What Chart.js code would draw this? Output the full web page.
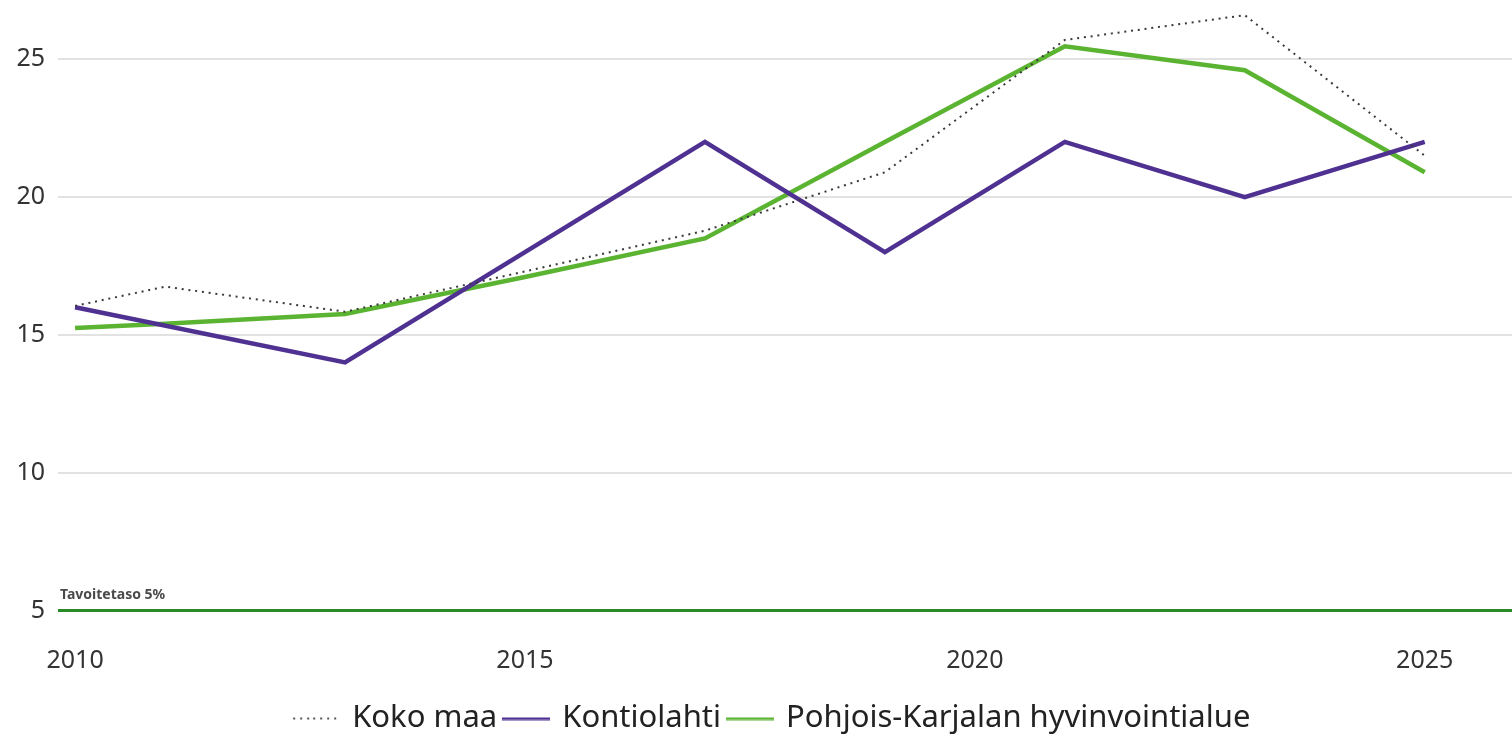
<!DOCTYPE html>
<html>
<head>
<meta charset="utf-8">
<script src="https://cdn.jsdelivr.net/npm/chart.js@4"></script>
<style>
  html, body { margin: 0; padding: 0; background: #fff; }
  #wrap { width: 1512px; height: 735px; }
</style>
</head>
<body>
<div id="wrap"><canvas id="chart" width="1512" height="735"></canvas></div>
<script>
// years on the x axis
const years = [2010, 2011, 2013, 2015, 2017, 2019, 2021, 2023, 2025];
const xTicks = [2010, 2015, 2020, 2025];
const yTicks = [5, 10, 15, 20, 25];

// series values (%)
const kokoMaa = [16.05, 16.75, 15.84, 17.3, 18.78, 20.9, 25.7, 26.6, 21.5];
const kontiolahti = [16.0, null, 14.0, null, 22.0, 18.0, 22.0, 20.0, 22.0];
const pohjoisKarjala = [15.25, 15.4, 15.76, 17.1, 18.5, 22.0, 25.47, 24.6, 20.9];

const targetValue = 5;
const targetLabel = 'Tavoitetaso 5%';

const toPoints = arr => years.map((y, i) => ({ x: y, y: arr[i] })).filter(p => p.y !== null);

// small line samples for the legend
function lineSample(color, dotted) {
    const c = document.createElement('canvas');
    c.width = 48; c.height = 4;
    const g = c.getContext('2d');
    g.fillStyle = color;
    if (dotted) {
        for (let x = 1; x < 48; x += 6.8) g.fillRect(Math.round(x), 1, 2, 2);
    } else {
        g.fillRect(0, 1, 48, 2.5);
    }
    return c;
}

// target line drawn on top of the plot with the y scale
const targetLine = {
    id: 'targetLine',
    afterLayout(chart) {
        // nudge the centred legend a bit to the right, like the original
        chart.legend.left += 34;
    },
    afterDatasetsDraw(chart) {
        const { ctx, chartArea, scales } = chart;
        const y = scales.y.getPixelForValue(targetValue);
        ctx.save();
        ctx.strokeStyle = '#2a8a2a';
        ctx.lineWidth = 3;
        ctx.beginPath();
        ctx.moveTo(chartArea.left, y);
        ctx.lineTo(chartArea.right, y);
        ctx.stroke();
        ctx.fillStyle = '#4a4a4a';
        ctx.font = 'bold 14px "Noto Sans", sans-serif';
        ctx.textBaseline = 'alphabetic';
        ctx.fillText(targetLabel, chartArea.left + 2, y - 12);
        ctx.restore();
    }
};

const font = '"Noto Sans", "Open Sans", sans-serif';

new Chart(document.getElementById('chart'), {
    type: 'line',
    data: {
        datasets: [
            {
                label: 'Koko maa',
                data: toPoints(kokoMaa),
                borderColor: '#3a3a3a',
                borderWidth: 2,
                borderDash: [2, 4.8],
                pointRadius: 0,
                pointStyle: lineSample('#555', true),
                fill: false
            },
            {
                label: 'Kontiolahti',
                data: toPoints(kontiolahti),
                borderColor: '#4f3192',
                borderWidth: 4.5,
                pointRadius: 0,
                pointStyle: lineSample('#4f3192', false),
                fill: false
            },
            {
                label: 'Pohjois-Karjalan hyvinvointialue',
                data: toPoints(pohjoisKarjala),
                borderColor: '#5bb431',
                borderWidth: 4.5,
                pointRadius: 0,
                pointStyle: lineSample('#5bb431', false),
                fill: false
            }
        ]
    },
    options: {
        responsive: false,
        animation: false,
        layout: { padding: { top: 0, right: 0, left: 0, bottom: -9 } },
        plugins: {
            tooltip: { enabled: false },
            legend: {
                display: true,
                position: 'bottom',
                labels: {
                    usePointStyle: true,
                    pointStyleWidth: 41,
                    boxHeight: 4,
                    padding: 8.5,
                    color: '#222',
                    font: { family: font, size: 31 }
                }
            }
        },
        scales: {
            x: {
                type: 'linear',
                min: 2009.81,
                max: 2025.97,
                afterBuildTicks: axis => { axis.ticks = xTicks.map(v => ({ value: v })); },
                afterFit: axis => { axis.height = 84; axis.paddingLeft = 0; axis.paddingRight = 0; },
                grid: { display: false, drawTicks: false },
                border: { display: false },
                ticks: {
                    callback: v => String(v),
                    color: '#333',
                    padding: 35,
                    maxRotation: 0,
                    font: { family: font, size: 25 }
                }
            },
            y: {
                min: 5,
                max: 27.15,
                afterBuildTicks: axis => { axis.ticks = yTicks.map(v => ({ value: v })); },
                afterFit: axis => { axis.width = 58; axis.paddingTop = 0; axis.paddingBottom = 0; },
                grid: { color: '#e2e2e2', lineWidth: 2, drawTicks: false },
                border: { display: false },
                ticks: {
                    color: '#333',
                    padding: 13,
                    font: { family: font, size: 25 }
                }
            }
        }
    },
    plugins: [targetLine]
});
</script>
</body>
</html>
